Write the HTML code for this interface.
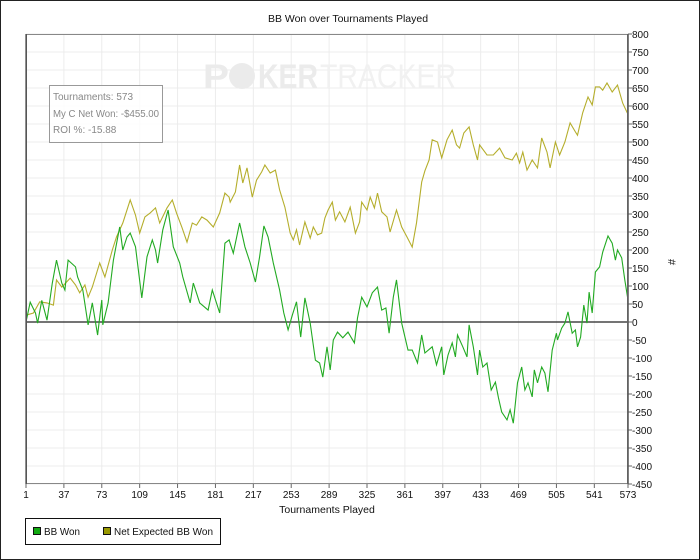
<!DOCTYPE html>
<html><head><meta charset="utf-8"><style>
html,body{margin:0;padding:0;background:#fff}
svg{display:block;font-family:"Liberation Sans",Arial,sans-serif}
</style></head><body>
<svg id="chart" width="700" height="560" viewBox="0 0 700 560">
<rect x="0.5" y="0.5" width="699" height="559" fill="#fff" stroke="#222"/>
<text x="348" y="22" text-anchor="middle" font-size="10.5" fill="#111">BB Won over Tournaments Played</text>
<g id="grid"></g>
<g>
<text x="203" y="88" font-size="34" font-weight="bold" fill="#ebebeb" textLength="26" lengthAdjust="spacingAndGlyphs">P</text>
<circle cx="242" cy="76" r="13" fill="#ebebeb"/>
<text x="258" y="88" font-size="34" font-weight="bold" fill="#ebebeb" textLength="60" lengthAdjust="spacingAndGlyphs">KER</text>
<text x="320" y="88" font-size="34" fill="#f1f1f1" textLength="136" lengthAdjust="spacingAndGlyphs">TRACKER</text>
</g>
<g id="series"></g>
<g id="axes"></g>
<g>
<rect x="49.5" y="85.5" width="113" height="57" fill="#fff" fill-opacity="0.85" stroke="#999"/>
<text x="53" y="100" font-size="10" fill="#888">Tournaments: 573</text>
<text x="53" y="117" font-size="10" fill="#888" textLength="106" lengthAdjust="spacingAndGlyphs">My C Net Won: -$455.00</text>
<text x="53" y="133" font-size="10" fill="#888">ROI %: -15.88</text>
</g>
<text x="327" y="513" text-anchor="middle" font-size="10.5" fill="#111">Tournaments Played</text>
<text x="668" y="262" text-anchor="middle" font-size="11" fill="#111" transform="rotate(90 668 262)">#</text>
<g>
<rect x="25.5" y="518.5" width="195" height="26" fill="#fff" stroke="#111"/>
<g>
<rect x="33.5" y="527.5" width="7" height="7" fill="#11aa11" stroke="#111"/>
<text x="44" y="535" font-size="10.5" fill="#111" textLength="36" lengthAdjust="spacingAndGlyphs">BB Won</text></g>
<g>
<rect x="103.5" y="527.5" width="7" height="7" fill="#999900" stroke="#111"/>
<text x="114" y="535" font-size="10.5" fill="#111" textLength="99" lengthAdjust="spacingAndGlyphs">Net Expected BB Won</text></g>
</g>
</svg>
<script>
const xTicks=[1,37,73,109,145,181,217,253,289,325,361,397,433,469,505,541,573];
const yTicks=[800,750,700,650,600,550,500,450,400,350,300,250,200,150,100,50,0,-50,-100,-150,-200,-250,-300,-350,-400,-450];
const wonT=[1,5,10,12,16,21,26,30,35,38,41,48,50,55,60,64,69,73,74,79,84,90,93,97,100,105,111,116,121,124,126,131,136,141,147,150,157,160,166,174,178,185,190,194,
198,204,209,214,219,223,227,231,236,242,246,250,254,258,262,266,271,276,280,283,287,290,293,297,302,307,313,316,320,325,330,335,339,343,346,350,353,358,364,368,373,377,
380,387,391,396,398,402,406,409,411,416,420,422,426,430,432,435,439,443,447,450,453,458,461,464,468,472,475,478,482,484,487,491,494,497,501,505,506,510,513,516,520,523,525,528,531,534,536,539,542,546,549,554,558,561,563,567,570,573];
const wonV=[0,55,25,-3,60,5,108,172,108,89,172,153,125,89,-8,53,-36,61,-8,53,172,264,200,236,247,209,67,181,228,200,164,256,311,209,164,125,53,108,53,33,89,25,219,228,
191,275,209,164,111,181,267,236,164,89,25,-22,19,56,-42,67,-3,-106,-114,-153,-69,-133,-50,-28,-44,-28,-58,11,69,42,81,97,33,39,-31,69,117,-3,-78,-78,-114,-36,
-86,-69,-119,-69,-147,-92,-58,-97,-36,-69,-97,-8,-69,-147,-78,-125,-114,-189,-167,-211,-250,-272,-244,-281,-169,-125,-189,-169,-208,-133,-169,-125,-142,-194,-78,-31,-50,-17,-3,28,-31,-22,-69,-42,47,-3,83,25,139,153,194,239,219,172,200,178,117,61];
const expT=[1,8,14,21,27,30,35,43,48,52,57,60,64,71,76,83,87,93,100,105,109,114,119,124,128,135,140,144,149,154,159,163,168,173,179,185,190,194,
195,200,204,207,211,216,220,225,228,233,238,242,247,252,255,258,261,266,271,274,278,282,285,288,292,295,299,304,309,314,318,320,325,328,332,335,339,344,347,353,358,363,368,372,377,
380,384,387,392,396,401,406,410,413,417,422,426,430,432,439,445,451,456,463,467,470,473,477,482,487,491,496,499,504,508,513,518,523,525,530,535,539,542,546,549,553,558,563,568,572,573];
const expV=[19,25,56,53,47,117,97,122,103,81,103,69,97,164,125,200,236,275,339,297,247,292,303,317,275,317,339,303,264,222,275,269,292,283,264,303,358,347,
333,361,436,386,428,347,394,417,436,414,422,367,319,247,228,256,214,278,233,264,242,247,289,311,333,283,306,278,319,247,278,333,311,347,317,358,306,292,250,311,264,236,208,275,389,
420,450,506,500,456,506,533,492,483,525,542,492,450,492,464,464,483,456,450,469,442,472,422,450,428,511,472,428,500,464,500,553,528,519,581,625,603,653,653,644,664,639,658,608,583,590];
const NS='http://www.w3.org/2000/svg';
const L=26,R=628,T=34,B=484;
const xs=t=>L+(t-1)*(R-L)/(573-1);
const ys=v=>T+(800-v)*(B-T)/(800+450);
function mk(tag,attrs,parent){const e=document.createElementNS(NS,tag);for(const k in attrs)e.setAttribute(k,attrs[k]);parent.appendChild(e);return e;}
const grid=document.getElementById('grid'),axes=document.getElementById('axes'),series=document.getElementById('series');
yTicks.forEach(v=>{
  const gl=mk('line',{x1:L,x2:R,y1:ys(v),y2:ys(v),stroke:'#ececec','stroke-width':1},grid);
  
  
  const tk=mk('line',{x1:R,x2:R+4,y1:ys(v),y2:ys(v),stroke:'#666'},axes);
  
  
  const tx=mk('text',{x:R+4,y:ys(v)+4,'font-size':10,fill:'#111'},axes);
  tx.textContent=v;
  
  
});
xTicks.forEach(t=>{
  const gl=mk('line',{x1:xs(t),x2:xs(t),y1:T,y2:B,stroke:'#ececec','stroke-width':1},grid);
  
  
  const tk=mk('line',{x1:xs(t),x2:xs(t),y1:B,y2:B+4,stroke:'#666'},axes);
  
  
  const tx=mk('text',{x:xs(t),y:B+14,'font-size':10,fill:'#111','text-anchor':'middle'},axes);
  tx.textContent=t;
  
  
});
const frame=mk('rect',{x:L+0.5,y:T+0.5,width:R-L-1,height:B-T-1,fill:'none',stroke:'#888'},axes);


const ly=mk('line',{x1:L,x2:L,y1:T,y2:B,stroke:'#222'},axes);


const ry=mk('line',{x1:R,x2:R,y1:T,y2:B,stroke:'#555','stroke-width':1.5},axes);


const zl=mk('line',{x1:L,x2:R,y1:ys(0),y2:ys(0),stroke:'#222','stroke-width':1.2},series);


const pe=mk('path',{d:expT.map((t,i)=>(i?'L':'M')+xs(t).toFixed(1)+' '+ys(expV[i]).toFixed(1)).join(''),fill:'none',stroke:'#b5ae2c','stroke-width':1.1},series);


const pw=mk('path',{d:wonT.map((t,i)=>(i?'L':'M')+xs(t).toFixed(1)+' '+ys(wonV[i]).toFixed(1)).join(''),fill:'none',stroke:'#22aa22','stroke-width':1.1},series);


</script>
</body></html>
